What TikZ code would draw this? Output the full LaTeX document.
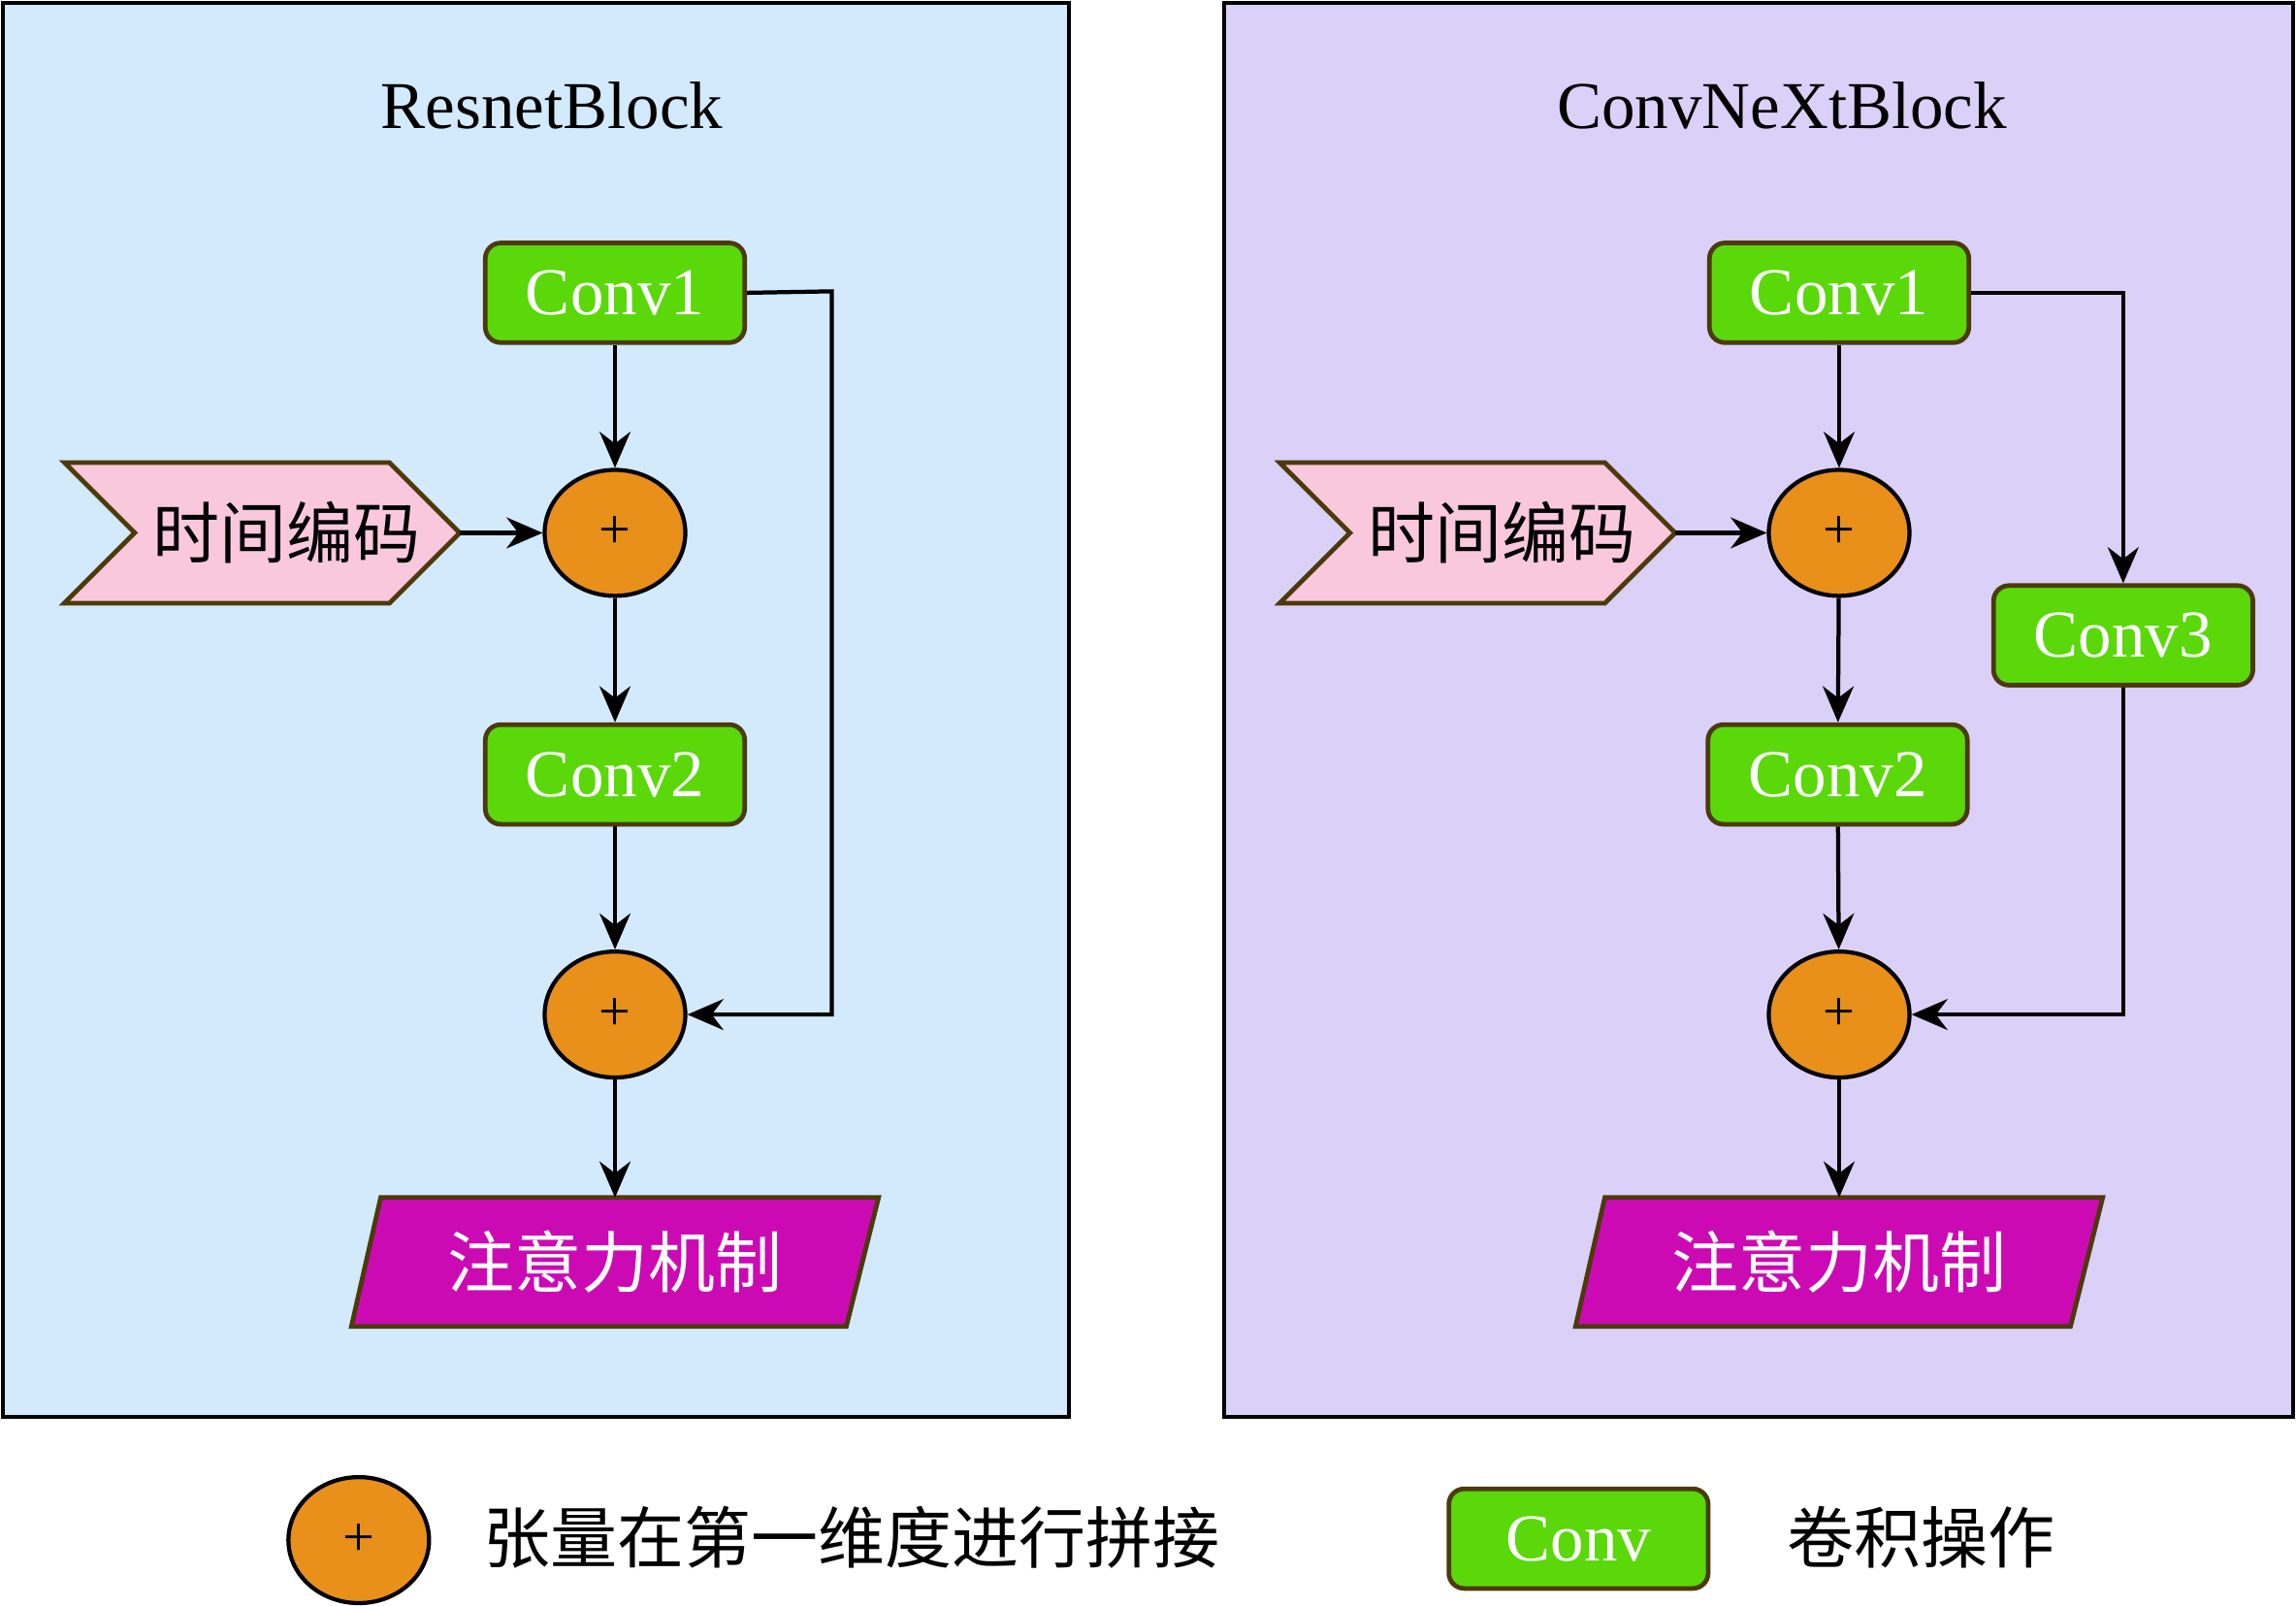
\documentclass[tikz,border=0pt]{standalone}
\usepackage{fontspec}
\setmainfont{Liberation Serif}
\newfontfamily\cjk{Noto Sans CJK SC}
\usetikzlibrary{arrows.meta,shapes.geometric,shapes.symbols}
\definecolor{lb}{HTML}{D2EAFB}
\definecolor{lv}{HTML}{DBD0F7}
\definecolor{gr}{HTML}{5AD80A}
\definecolor{og}{HTML}{E8901A}
\definecolor{pk}{HTML}{FAC8DC}
\definecolor{mg}{HTML}{CC0AB4}
\definecolor{bd}{HTML}{4D3A0A}
\begin{document}
\begin{tikzpicture}[x=0.01cm,y=-0.01cm,
 conv/.style={draw=bd,line width=0.9pt,fill=gr,rounded corners=3pt,minimum width=1.77cm,minimum height=0.68cm,text=white,font=\fontsize{13}{15}\selectfont,inner sep=0pt},
 add/.style={draw=black,line width=0.8pt,fill=og,ellipse,minimum width=0.96cm,minimum height=0.86cm,inner sep=0pt,font=\fontsize{11}{13}\selectfont},
 arr/.style={-{Stealth[length=7pt,width=6pt]},line width=0.8pt},
 lbl/.style={font=\fontsize{13}{15}\selectfont},
 cj/.style={font=\cjk\fontsize{13}{15}\selectfont}]
\useasboundingbox (0,0) rectangle (1568,1097);
\fill[white] (0,0) rectangle (1568,1097);
\draw[fill=lb,line width=0.8pt] (2,2) rectangle (730,968);
\draw[fill=lv,line width=0.8pt] (836,2) rectangle (1566,968);
\node[lbl] (t1) at (377,72) {ResnetBlock};
\node[lbl] (t2) at (1217,72) {ConvNeXtBlock};
% left
\node[conv] (c1) at (420,200) {Conv1};
\node[add] (a1) at (420,364) {+};
\node[conv] (c2) at (420,529) {Conv2};
\node[add] (a2) at (420,693) {+};
\draw[fill=pk,draw=bd,line width=0.9pt] (44,316)--(266,316)--(314,364)--(266,412)--(44,412)--(92,364)--cycle;
\coordinate (te) at (314,364);
\node[cj] (tt) at (196,364) {时间编码};
\draw[fill=mg,draw=bd,line width=0.9pt] (260,818)--(600,818)--(578,906)--(240,906)--cycle;
\node[cj,text=white] (at) at (420,862) {注意力机制};
\coordinate (atn) at (420,818);
\draw[arr] (c1) -- (a1);
\draw[arr] (te) -- (a1);
\draw[arr] (a1) -- (c2);
\draw[arr] (c2) -- (a2);
\draw[arr] (a2) -- (atn);
\draw[arr] (c1.east) -- (568,199) |- (a2.east);
% right
\node[conv] (d1) at (1256,200) {Conv1};
\node[add] (b1) at (1256,364) {+};
\node[conv] (d2) at (1255,529) {Conv2};
\node[conv] (d3) at (1450,434) {Conv3};
\node[add] (b2) at (1256,693) {+};
\draw[fill=pk,draw=bd,line width=0.9pt] (874,316)--(1096,316)--(1144,364)--(1096,412)--(874,412)--(922,364)--cycle;
\coordinate (re) at (1144,364);
\node[cj] (rt) at (1026,364) {时间编码};
\draw[fill=mg,draw=bd,line width=0.9pt] (1096,818)--(1436,818)--(1414,906)--(1076,906)--cycle;
\node[cj,text=white] (bt) at (1256,862) {注意力机制};
\coordinate (btn) at (1256,818);
\draw[arr] (d1) -- (b1);
\draw[arr] (re) -- (b1);
\draw[arr] (b1) -- (d2);
\draw[arr] (d2) -- (b2);
\draw[arr] (b2) -- (btn);
\draw[arr] (d1.east) -| (d3.north);
\draw[arr] (d3.south) |- (b2.east);
% legend
\node[add] (la) at (245,1052) {+};
\node[cj,anchor=west] (lt) at (318,1050) {张量在第一维度进行拼接};
\node[conv] (lc) at (1078,1051) {Conv};
\node[cj,anchor=west] (lct) at (1208,1050) {卷积操作};
\end{tikzpicture}
\end{document}
